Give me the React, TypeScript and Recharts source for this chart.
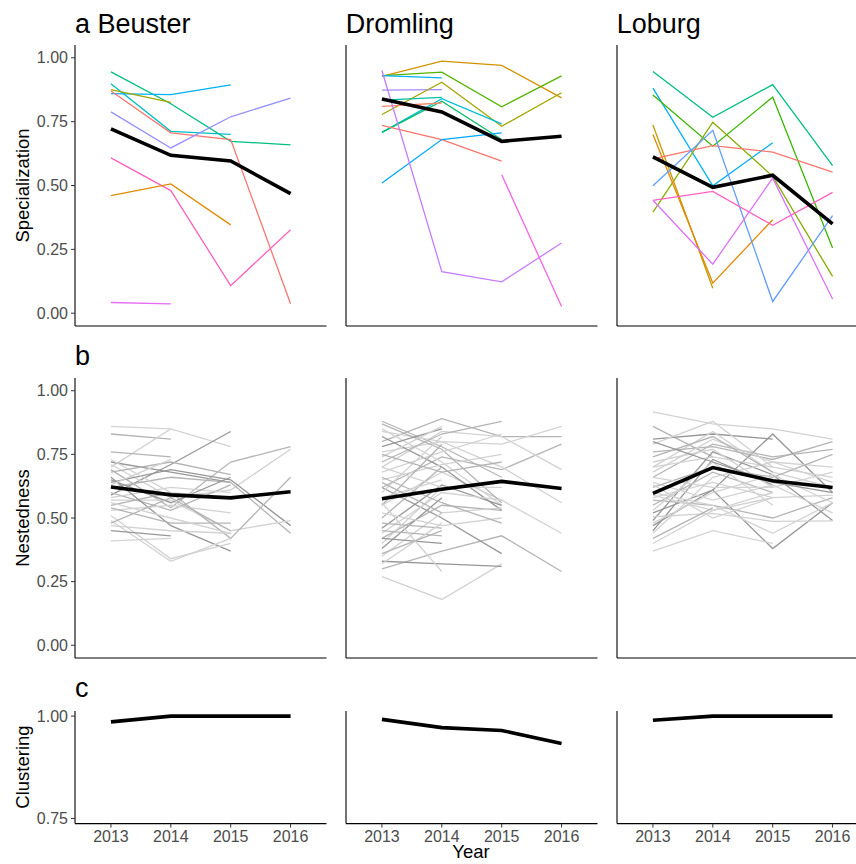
import { LineChart, Line, XAxis, YAxis } from "recharts";

const years = [2013, 2014, 2015, 2016];

// a: Specialization (one line per species, plus the site mean)
const beusterSpecMean = [0.722, 0.618, 0.596, 0.468];
const beusterSpecLines = [
  [0.945, 0.82, 0.673, 0.659],
  [0.898, 0.712, 0.7, null],
  [0.86, 0.856, 0.894, null],
  [0.875, 0.825, null, null],
  [0.87, 0.706, 0.68, 0.037],
  [0.788, 0.647, 0.769, 0.842],
  [0.608, 0.48, 0.108, 0.327],
  [0.46, 0.506, 0.346, null],
  [0.042, 0.037, null, null],
];
const dromlingSpecMean = [0.839, 0.788, 0.673, 0.693];
const dromlingSpecLines = [
  [0.927, 0.987, 0.97, 0.843],
  [0.93, 0.944, 0.808, 0.929],
  [0.93, 0.921, null, null],
  [0.873, 0.875, null, null],
  [0.778, 0.904, 0.732, 0.863],
  [0.834, 0.845, null, null],
  [0.708, 0.84, 0.741, null],
  [0.708, 0.83, 0.68, null],
  [0.81, 0.823, null, null],
  [0.735, 0.68, 0.595, null],
  [0.51, 0.68, 0.706, null],
  [0.95, 0.163, 0.123, 0.275],
  [null, null, 0.542, 0.026],
];
const loburgSpecMean = [0.612, 0.493, 0.54, 0.35];
const loburgSpecLines = [
  [0.946, 0.767, 0.895, 0.578],
  [0.881, 0.499, 0.667, null],
  [0.854, 0.654, 0.846, 0.255],
  [0.396, 0.748, 0.536, 0.144],
  [0.737, 0.098, null, null],
  [0.7, 0.118, 0.366, null],
  [0.604, 0.656, 0.631, 0.552],
  [0.499, 0.716, 0.046, 0.382],
  [0.442, 0.477, 0.344, 0.473],
  [0.442, 0.192, 0.529, 0.056],
];

// b: Nestedness
const beusterNestMean = [0.622, 0.591, 0.579, 0.603];
const beusterNestLines = [
  [0.86, 0.85, null, null],
  [0.83, 0.81, null, null],
  [0.7, 0.85, 0.78, null],
  [0.59, 0.71, 0.84, null],
  [0.76, 0.74, null, null],
  [0.72, 0.68, 0.64, null],
  [0.69, 0.54, 0.72, 0.78],
  [0.71, 0.58, 0.61, 0.77],
  [0.64, 0.69, 0.65, 0.47],
  [0.62, 0.66, 0.64, 0.44],
  [0.57, 0.57, 0.45, 0.49],
  [0.55, 0.6, 0.42, 0.66],
  [0.6, 0.53, 0.63, null],
  [0.58, 0.62, 0.6, null],
  [0.66, 0.47, 0.37, null],
  [0.49, 0.33, 0.42, null],
  [0.51, 0.34, 0.4, null],
  [0.41, 0.42, null, null],
  [0.45, 0.43, null, null],
  [0.47, 0.45, 0.44, null],
  [0.53, 0.55, 0.52, null],
  [0.54, 0.48, 0.48, null],
  [0.65, 0.56, 0.66, null],
  [0.73, 0.6, 0.58, null],
  [0.68, 0.72, 0.67, null],
  [0.63, 0.73, null, null],
  [0.48, 0.58, 0.45, null],
  [0.56, 0.5, 0.44, null],
];
const dromlingNestMean = [0.576, 0.613, 0.644, 0.616];
const dromlingNestLines = [
  [0.8, 0.89, 0.82, 0.82],
  [0.27, 0.18, 0.32, null],
  [0.3, 0.37, 0.43, 0.29],
  [0.33, 0.32, 0.31, null],
  [0.88, 0.78, 0.66, null],
  [0.76, 0.8, 0.79, 0.86],
  [0.62, 0.74, 0.69, 0.79],
  [0.7, 0.84, 0.82, 0.69],
  [0.84, 0.8, 0.7, 0.56],
  [0.55, 0.68, 0.57, 0.44],
  [0.87, 0.77, 0.56, null],
  [0.85, 0.72, 0.55, null],
  [0.82, 0.7, 0.53, null],
  [0.62, 0.5, 0.36, null],
  [0.78, 0.85, null, null],
  [0.74, 0.86, null, null],
  [0.72, 0.83, 0.88, null],
  [0.68, 0.76, 0.83, null],
  [0.65, 0.71, 0.75, null],
  [0.6, 0.82, null, null],
  [0.55, 0.79, null, null],
  [0.5, 0.7, null, null],
  [0.46, 0.63, 0.55, null],
  [0.44, 0.6, 0.57, null],
  [0.42, 0.55, 0.53, null],
  [0.4, 0.62, null, null],
  [0.38, 0.58, null, null],
  [0.35, 0.52, 0.54, null],
  [0.45, 0.43, null, null],
  [0.42, 0.4, null, null],
  [0.48, 0.46, null, null],
  [0.52, 0.47, 0.5, null],
  [0.56, 0.29, null, null],
  [0.66, 0.56, 0.48, null],
  [0.7, 0.62, 0.62, null],
  [0.75, 0.68, 0.72, null],
  [0.58, 0.65, null, null],
  [0.64, 0.52, null, null],
  [0.32, 0.48, null, null],
  [0.36, 0.45, null, null],
];
const loburgNestMean = [0.597, 0.698, 0.646, 0.62];
const loburgNestLines = [
  [0.917, 0.87, 0.85, 0.81],
  [0.86, 0.74, null, null],
  [0.81, 0.83, 0.81, null],
  [0.79, 0.88, 0.7, null],
  [0.7, 0.84, 0.68, 0.62],
  [0.76, 0.78, 0.73, 0.8],
  [0.47, 0.61, 0.83, 0.6],
  [0.52, 0.61, 0.38, 0.56],
  [0.37, 0.45, 0.4, null],
  [0.4, 0.53, 0.58, 0.59],
  [0.45, 0.73, 0.63, null],
  [0.49, 0.76, 0.67, 0.49],
  [0.505, 0.518, 0.487, 0.489],
  [0.57, 0.55, 0.5, 0.58],
  [0.6, 0.55, 0.44, 0.56],
  [0.64, 0.57, 0.63, 0.52],
  [0.66, 0.79, 0.74, 0.77],
  [0.68, 0.81, 0.72, 0.7],
  [0.7, 0.74, 0.7, 0.66],
  [0.72, 0.77, 0.62, null],
  [0.62, 0.7, 0.66, 0.75],
  [0.55, 0.68, 0.6, null],
  [0.58, 0.64, 0.58, null],
  [0.53, 0.72, 0.55, null],
  [0.48, 0.6, 0.67, 0.56],
  [0.44, 0.66, 0.72, 0.64],
  [0.74, 0.82, 0.68, null],
  [0.66, 0.62, 0.62, 0.68],
  [0.59, 0.53, 0.6, null],
  [0.63, 0.5, 0.58, null],
  [0.42, 0.54, null, null],
  [0.8, 0.72, 0.64, 0.6],
];

// c: Clustering (site mean only)
const beusterClust = [0.986, 1.0, 1.0, 1.0];
const dromlingClust = [0.992, 0.972, 0.965, 0.933];
const loburgClust = [0.99, 1.0, 1.0, 1.0];

const unitTicks = [0, 0.25, 0.5, 0.75, 1];
const clustTicks = [0.75, 1];

// styles
const beusterSpecColors = ["#00BF7D", "#00BFC4", "#00B0F6", "#A3A500", "#F8766D", "#9590FF", "#FF62BC", "#E08B00", "#E76BF3"];
const dromlingSpecColors = ["#D39200", "#53B400", "#00B0F6", "#A58AFF", "#A3A500", "#00C1A3", "#00BCD8", "#00BE67", "#F8866A", "#F8766D", "#00A9FF", "#C77CFF", "#F564E3"];
const loburgSpecColors = ["#00BF7D", "#00B0F6", "#39B600", "#85AD00", "#C49A00", "#E58700", "#F8766D", "#619CFF", "#FF61C3", "#DB72FB"];
const greys: Record<string, string> = { l: "#d2d2d2", m: "#b4b4b4", d: "#979797" };
const beusterShades = "lmldmdmldmlmmldllldllmdlmlmlm";
const dromlingShades = "mlmdmlmlllmldddlmlllmmdlmldlmdmllmlmlmlm";
const loburgShades = "lmdllmddllddlmllmlllmmllllmlllmdl";

const colX = [75, 345.7, 616.7];
const plotW = 251.5;
const rowTop = [45, 378.3, 710.7];
const rowH = [281, 280, 112.6];

function buildRows(lines: (number | null)[][], mean: number[]) {
  return years.map((year, i) => {
    const r: Record<string, number | null> = { year, mean: mean[i] };
    lines.forEach((l, k) => {
      r["s" + k] = l[i];
    });
    return r;
  });
}

type PanelProps = {
  col: number;
  row: number;
  lines: (number | null)[][];
  mean: number[];
  colors: string[];
  domain: [number, number];
  ticks: number[];
};

function Panel({ col, row, lines, mean, colors, domain, ticks }: PanelProps) {
  const data = buildRows(lines, mean);
  const showY = col === 0;
  const showX = row === 2;
  return (
    <div style={{ position: "absolute", left: colX[col] - 70, top: rowTop[row] - 10 }}>
      <LineChart
        width={plotW + 80}
        height={rowH[row] + 50}
        data={data}
        margin={{ top: 10, right: 10, left: 0, bottom: 0 }}
      >
        <XAxis
          dataKey="year"
          type="number"
          domain={[2012.4, 2016.6]}
          ticks={years}
          allowDataOverflow
          height={40}
          axisLine={{ stroke: "#000", strokeWidth: 1.1 }}
          tickLine={showX ? { stroke: "#333" } : false}
          tickSize={4}
          tick={showX ? { fill: "#4D4D4D", fontSize: 16 } : false}
          tickMargin={3}
        />
        <YAxis
          type="number"
          domain={domain}
          ticks={ticks}
          allowDataOverflow
          width={70}
          axisLine={{ stroke: "#000", strokeWidth: 1.1 }}
          tickLine={showY ? { stroke: "#333" } : false}
          tickSize={4}
          tick={showY ? { fill: "#4D4D4D", fontSize: 16 } : false}
          tickMargin={3}
          tickFormatter={(v: number) => v.toFixed(2)}
        />
        {lines.map((_, k) => (
          <Line
            key={k}
            dataKey={"s" + k}
            stroke={colors[k % colors.length]}
            strokeWidth={1.3}
            dot={false}
            activeDot={false}
            isAnimationActive={false}
          />
        ))}
        <Line
          dataKey="mean"
          stroke="#000"
          strokeWidth={3.6}
          dot={false}
          activeDot={false}
          isAnimationActive={false}
        />
      </LineChart>
    </div>
  );
}

const shadeColors = (s: string) => s.split("").map((c) => greys[c]);

export default function App() {
  const specDomain: [number, number] = [-0.05, 1.05];
  const clustDomain: [number, number] = [0.7375, 1.0125];
  return (
    <div
      style={{
        position: "absolute",
        left: 0,
        top: 0,
        width: 856,
        height: 864,
        overflow: "hidden",
        background: "#fff",
        fontFamily: "'Liberation Sans', Arial, sans-serif",
      }}
    >
      <Panel col={0} row={0} lines={beusterSpecLines} mean={beusterSpecMean} colors={beusterSpecColors} domain={specDomain} ticks={unitTicks} />
      <Panel col={1} row={0} lines={dromlingSpecLines} mean={dromlingSpecMean} colors={dromlingSpecColors} domain={specDomain} ticks={unitTicks} />
      <Panel col={2} row={0} lines={loburgSpecLines} mean={loburgSpecMean} colors={loburgSpecColors} domain={specDomain} ticks={unitTicks} />

      <Panel col={0} row={1} lines={beusterNestLines} mean={beusterNestMean} colors={shadeColors(beusterShades)} domain={specDomain} ticks={unitTicks} />
      <Panel col={1} row={1} lines={dromlingNestLines} mean={dromlingNestMean} colors={shadeColors(dromlingShades)} domain={specDomain} ticks={unitTicks} />
      <Panel col={2} row={1} lines={loburgNestLines} mean={loburgNestMean} colors={shadeColors(loburgShades)} domain={specDomain} ticks={unitTicks} />

      <Panel col={0} row={2} lines={[]} mean={beusterClust} colors={["#000"]} domain={clustDomain} ticks={clustTicks} />
      <Panel col={1} row={2} lines={[]} mean={dromlingClust} colors={["#000"]} domain={clustDomain} ticks={clustTicks} />
      <Panel col={2} row={2} lines={[]} mean={loburgClust} colors={["#000"]} domain={clustDomain} ticks={clustTicks} />

      <svg width={856} height={864} style={{ position: "absolute", left: 0, top: 0, pointerEvents: "none" }}>
        <g fontSize={27} fill="#000">
          <text x={75} y={32.5}>a Beuster</text>
          <text x={345.7} y={32.5}>Dromling</text>
          <text x={616.7} y={32.5}>Loburg</text>
          <text x={75} y={365}>b</text>
          <text x={75} y={697}>c</text>
        </g>
        <g fontSize={18.5} fill="#000" textAnchor="middle">
          <text x={22.5} y={185.5} dominantBaseline="central" transform="rotate(-90 22.5 185.5)">Specialization</text>
          <text x={22.5} y={518} dominantBaseline="central" transform="rotate(-90 22.5 518)">Nestedness</text>
          <text x={22.5} y={767} dominantBaseline="central" transform="rotate(-90 22.5 767)">Clustering</text>
          <text x={471} y={858}>Year</text>
        </g>
      </svg>
    </div>
  );
}
